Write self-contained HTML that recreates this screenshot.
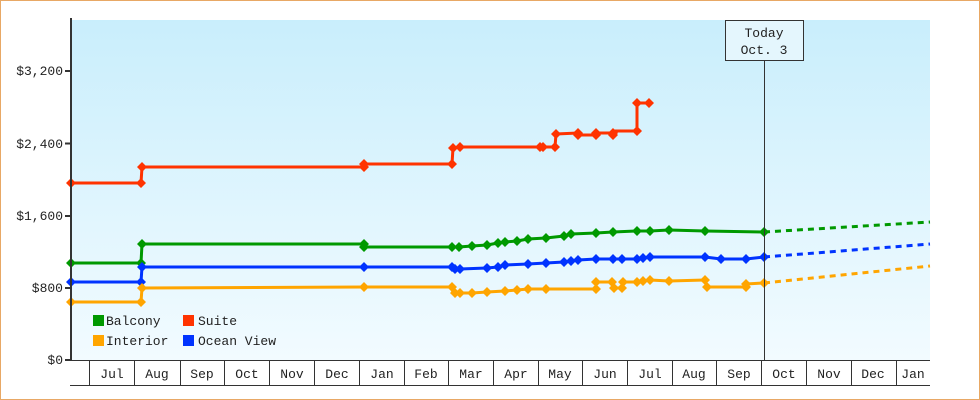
<!DOCTYPE html>
<html><head><meta charset="utf-8"><style>
html,body{margin:0;padding:0;background:#fff}
svg{display:block}
text{font-family:"Liberation Mono","DejaVu Sans Mono",monospace;font-size:13px;fill:#222}
</style></head><body>
<svg width="980" height="400" viewBox="0 0 980 400" xmlns="http://www.w3.org/2000/svg">
<defs>
<linearGradient id="bg" x1="0" y1="0" x2="0" y2="1">
<stop offset="0" stop-color="#c9eefc"/><stop offset="1" stop-color="#f2fbff"/>
</linearGradient>
<marker id="d" viewBox="-5 -5 10 10" markerWidth="10" markerHeight="10" markerUnits="userSpaceOnUse">
<path d="M0,-4.5 L4.5,0 L0,4.5 L-4.5,0Z" fill="context-stroke"/></marker>
</defs>
<rect x="0.5" y="0.5" width="979" height="399" fill="#fff" stroke="#e8a865"/>
<rect x="72" y="20" width="858" height="340" fill="url(#bg)"/>
<g fill="none" stroke-width="3" stroke-linejoin="round">
<g stroke-dasharray="6,5">
<path d="M764,232 L930,222" stroke="#009900"/>
<path d="M764,257 L930,244" stroke="#0033ff"/>
<path d="M764,283 L930,266" stroke="#ffa500"/>
</g>
<g id="series">
<path stroke="#ff3300" d="M71,183 L141,183 L142,167 L364,167 L364,164 L452,164 L453,148 L460,147 L540,147 L543,147 L555,147 L556,134 L578,133 L578,135 L596,135 L596,133 L613,133 L613,131 L637,131 L637,103 L649,103"/>
<path stroke="#009900" d="M71,263 L141,263 L142,244 L364,244 L364,247 L452,247 L459,247 L472,246 L487,245 L498,243 L505,242 L517,241 L528,239 L546,238 L564,236 L571,234 L596,233 L613,232 L637,231 L650,231 L669,230 L705,231 L764,232"/>
<path stroke="#0033ff" d="M71,282 L141,282 L142,267 L364,267 L452,267 L454,269 L460,269 L487,268 L498,267 L505,265 L528,264 L546,263 L564,262 L571,261 L578,260 L596,259 L613,259 L622,259 L637,259 L643,258 L650,257 L705,257 L721,259 L746,259 L764,257"/>
<path stroke="#ffa500" d="M71,302 L141,302 L142,288 L364,287 L452,287 L453,293 L460,293 L472,293 L487,292 L505,291 L517,290 L528,289 L546,289 L596,289 L596,282 L612,282 L614,288 L622,288 L623,282 L637,282 L643,281 L650,280 L669,281 L705,280 L707,287 L746,287 L746,284 L764,283"/>
</g>
</g>
<g stroke-width="0">
<g fill="#ff3300">
<path d="M71,178l5,5l-5,5l-5,-5zM141,178l5,5l-5,5l-5,-5zM142,162l5,5l-5,5l-5,-5zM364,159l5,5l-5,5l-5,-5zM364,162l5,5l-5,5l-5,-5zM452,159l5,5l-5,5l-5,-5zM453,143l5,5l-5,5l-5,-5zM460,142l5,5l-5,5l-5,-5zM540,142l5,5l-5,5l-5,-5zM543,142l5,5l-5,5l-5,-5zM555,142l5,5l-5,5l-5,-5zM556,129l5,5l-5,5l-5,-5zM578,128l5,5l-5,5l-5,-5zM578,130l5,5l-5,5l-5,-5zM596,128l5,5l-5,5l-5,-5zM596,130l5,5l-5,5l-5,-5zM613,128l5,5l-5,5l-5,-5zM613,130l5,5l-5,5l-5,-5zM637,126l5,5l-5,5l-5,-5zM637,98l5,5l-5,5l-5,-5zM649,98l5,5l-5,5l-5,-5z"/>
</g>
<g fill="#009900">
<path d="M71,258l5,5l-5,5l-5,-5zM141,258l5,5l-5,5l-5,-5zM142,239l5,5l-5,5l-5,-5zM364,239l5,5l-5,5l-5,-5zM364,242l5,5l-5,5l-5,-5zM452,242l5,5l-5,5l-5,-5zM459,242l5,5l-5,5l-5,-5zM472,241l5,5l-5,5l-5,-5zM487,240l5,5l-5,5l-5,-5zM498,238l5,5l-5,5l-5,-5zM505,237l5,5l-5,5l-5,-5zM517,236l5,5l-5,5l-5,-5zM528,234l5,5l-5,5l-5,-5zM546,233l5,5l-5,5l-5,-5zM564,231l5,5l-5,5l-5,-5zM571,229l5,5l-5,5l-5,-5zM596,228l5,5l-5,5l-5,-5zM613,227l5,5l-5,5l-5,-5zM637,226l5,5l-5,5l-5,-5zM650,226l5,5l-5,5l-5,-5zM669,225l5,5l-5,5l-5,-5zM705,226l5,5l-5,5l-5,-5zM764,227l5,5l-5,5l-5,-5z"/>
</g>
<g fill="#0033ff">
<path d="M71,277l5,5l-5,5l-5,-5zM141,277l5,5l-5,5l-5,-5zM142,262l5,5l-5,5l-5,-5zM364,262l5,5l-5,5l-5,-5zM452,262l5,5l-5,5l-5,-5zM455,264l5,5l-5,5l-5,-5zM460,264l5,5l-5,5l-5,-5zM487,263l5,5l-5,5l-5,-5zM498,262l5,5l-5,5l-5,-5zM505,260l5,5l-5,5l-5,-5zM528,259l5,5l-5,5l-5,-5zM546,258l5,5l-5,5l-5,-5zM564,257l5,5l-5,5l-5,-5zM571,256l5,5l-5,5l-5,-5zM578,255l5,5l-5,5l-5,-5zM596,254l5,5l-5,5l-5,-5zM613,254l5,5l-5,5l-5,-5zM622,254l5,5l-5,5l-5,-5zM637,254l5,5l-5,5l-5,-5zM643,253l5,5l-5,5l-5,-5zM650,252l5,5l-5,5l-5,-5zM705,252l5,5l-5,5l-5,-5zM721,254l5,5l-5,5l-5,-5zM746,254l5,5l-5,5l-5,-5zM764,252l5,5l-5,5l-5,-5z"/>
</g>
<g fill="#ffa500">
<path d="M71,297l5,5l-5,5l-5,-5zM141,297l5,5l-5,5l-5,-5zM142,283l5,5l-5,5l-5,-5zM364,282l5,5l-5,5l-5,-5zM452,282l5,5l-5,5l-5,-5zM455,288l5,5l-5,5l-5,-5zM460,288l5,5l-5,5l-5,-5zM472,288l5,5l-5,5l-5,-5zM487,287l5,5l-5,5l-5,-5zM505,286l5,5l-5,5l-5,-5zM517,285l5,5l-5,5l-5,-5zM528,284l5,5l-5,5l-5,-5zM546,284l5,5l-5,5l-5,-5zM596,284l5,5l-5,5l-5,-5zM596,277l5,5l-5,5l-5,-5zM612,277l5,5l-5,5l-5,-5zM614,283l5,5l-5,5l-5,-5zM622,283l5,5l-5,5l-5,-5zM623,277l5,5l-5,5l-5,-5zM637,277l5,5l-5,5l-5,-5zM643,276l5,5l-5,5l-5,-5zM650,275l5,5l-5,5l-5,-5zM669,276l5,5l-5,5l-5,-5zM705,275l5,5l-5,5l-5,-5zM707,282l5,5l-5,5l-5,-5zM746,282l5,5l-5,5l-5,-5zM746,279l5,5l-5,5l-5,-5zM764,278l5,5l-5,5l-5,-5z"/>
</g>
</g>
<!-- today -->
<line x1="764.5" y1="60" x2="764.5" y2="360" stroke="#333" stroke-width="1"/>
<rect x="725.5" y="20.5" width="78" height="40" fill="#e4f6fd" stroke="#333"/>
<text x="764" y="37" text-anchor="middle">Today</text>
<text x="764" y="54" text-anchor="middle">Oct. 3</text>
<!-- axes -->
<line x1="71" y1="18" x2="71" y2="361" stroke="#333" stroke-width="2"/>
<line x1="70" y1="360.5" x2="930" y2="360.5" stroke="#333" stroke-width="1"/>
<line x1="70" y1="385.5" x2="930" y2="385.5" stroke="#333" stroke-width="1"/>
<g stroke="#333" stroke-width="2">
<line x1="65" y1="71" x2="71" y2="71"/><line x1="65" y1="143.5" x2="71" y2="143.5"/><line x1="65" y1="216" x2="71" y2="216"/><line x1="65" y1="288" x2="71" y2="288"/><line x1="65" y1="360" x2="71" y2="360"/>
</g>
<g text-anchor="end">
<text x="63" y="75">$3,200</text><text x="63" y="148">$2,400</text><text x="63" y="220">$1,600</text><text x="63" y="292">$800</text><text x="63" y="364">$0</text>
</g>
<g stroke="#333" stroke-width="1">
<line x1="89.5" y1="360" x2="89.5" y2="385"/><line x1="134.5" y1="360" x2="134.5" y2="385"/><line x1="180.5" y1="360" x2="180.5" y2="385"/><line x1="224.5" y1="360" x2="224.5" y2="385"/><line x1="269.5" y1="360" x2="269.5" y2="385"/><line x1="314.5" y1="360" x2="314.5" y2="385"/><line x1="359.5" y1="360" x2="359.5" y2="385"/><line x1="404.5" y1="360" x2="404.5" y2="385"/><line x1="448.5" y1="360" x2="448.5" y2="385"/><line x1="493.5" y1="360" x2="493.5" y2="385"/><line x1="538.5" y1="360" x2="538.5" y2="385"/><line x1="582.5" y1="360" x2="582.5" y2="385"/><line x1="627.5" y1="360" x2="627.5" y2="385"/><line x1="672.5" y1="360" x2="672.5" y2="385"/><line x1="716.5" y1="360" x2="716.5" y2="385"/><line x1="761.5" y1="360" x2="761.5" y2="385"/><line x1="806.5" y1="360" x2="806.5" y2="385"/><line x1="851.5" y1="360" x2="851.5" y2="385"/><line x1="896.5" y1="360" x2="896.5" y2="385"/>
</g>
<g text-anchor="middle">
<text x="112" y="378">Jul</text><text x="157" y="378">Aug</text><text x="202" y="378">Sep</text><text x="247" y="378">Oct</text><text x="292" y="378">Nov</text><text x="337" y="378">Dec</text><text x="382" y="378">Jan</text><text x="426" y="378">Feb</text><text x="471" y="378">Mar</text><text x="516" y="378">Apr</text><text x="560" y="378">May</text><text x="605" y="378">Jun</text><text x="650" y="378">Jul</text><text x="694" y="378">Aug</text><text x="739" y="378">Sep</text><text x="784" y="378">Oct</text><text x="829" y="378">Nov</text><text x="873" y="378">Dec</text><text x="913" y="378">Jan</text>
</g>
<!-- legend -->
<rect x="93" y="315" width="11" height="11" fill="#009900"/><text x="106" y="325">Balcony</text>
<rect x="183" y="315" width="11" height="11" fill="#ff3300"/><text x="198" y="325">Suite</text>
<rect x="93" y="335" width="11" height="11" fill="#ffa500"/><text x="106" y="345">Interior</text>
<rect x="183" y="335" width="11" height="11" fill="#0033ff"/><text x="198" y="345">Ocean View</text>
</svg>
</body></html>
